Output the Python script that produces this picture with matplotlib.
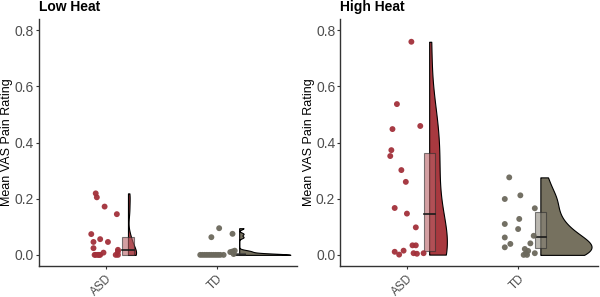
import numpy as np
import matplotlib.pyplot as plt
from matplotlib.patches import Rectangle
from matplotlib.transforms import ScaledTranslation

plt.rcParams["font.family"] = ["Liberation Sans", "DejaVu Sans"]

groups = ["ASD", "TD"]
panels = ["Low Heat", "High Heat"]

# mean VAS ratings per participant
low_asd = [0.219, 0.205, 0.172, 0.145, 0.074, 0.046, 0.056, 0.046, 0.024, 0.0,
           0.0, 0.0, 0.008, 0.018, 0.0, 0.012, 0.0, 0.0, 0.0]
low_asd_jit = [-0.09, -0.08, -0.01, 0.10, -0.13, -0.11, -0.05, 0.02, -0.11, -0.10,
               -0.07, -0.05, -0.02, 0.11, 0.11, 0.11, -0.09, -0.06, 0.09]
low_td = [0.0, 0.0, 0.0, 0.0, 0.0, 0.0, 0.0, 0.0, 0.0, 0.0, 0.0,
          0.063, 0.095, 0.075, 0.003, 0.010, 0.012, 0.015]
low_td_jit = [-0.15, -0.13, -0.11, -0.09, -0.07, -0.05, -0.03, -0.01, 0.01, 0.03, 0.06,
              -0.05, 0.02, 0.14, 0.15, 0.12, 0.14, 0.16]
high_asd = [0.759, 0.537, 0.448, 0.459, 0.373, 0.352, 0.302, 0.260, 0.167, 0.147,
            0.098, 0.011, 0.001, 0.015, 0.034, 0.034, 0.006, 0.004, 0.006]
high_asd_jit = [0.04, -0.09, -0.13, 0.12, -0.14, -0.15, -0.05, -0.01, -0.11, 0.00,
                0.08, -0.11, -0.07, -0.03, 0.05, 0.08, 0.06, 0.09, 0.15]
high_td = [0.276, 0.199, 0.212, 0.166, 0.128, 0.110, 0.092, 0.062, 0.068, 0.039,
           0.027, 0.041, 0.021, 0.014, 0.006, 0.0, 0.0, 0.006]
high_td_jit = [-0.08, -0.12, 0.02, 0.15, 0.01, -0.12, 0.00, -0.12, 0.14, -0.07,
               -0.12, 0.11, 0.06, 0.09, 0.07, 0.05, 0.08, 0.15]

# box statistics (q1, median, q3) as drawn in the reference
low_box = [(0.0, 0.018, 0.065), (0.0, 0.0, 0.008)]
high_box = [(0.015, 0.147, 0.362), (0.024, 0.065, 0.154)]

data = {
    "Low Heat": ([low_asd, low_td], [low_asd_jit, low_td_jit], low_box),
    "High Heat": ([high_asd, high_td], [high_asd_jit, high_td_jit], high_box),
}

PT_C = ["#A2303A", "#6B685C"]
VIO_C = ["#A8393F", "#76715F"]
BOX_C = ["#B85F64", "#8C887C"]


def kde(vals):
    v = np.asarray(vals, float)
    sd = v.std(ddof=1)
    q1, q3 = np.percentile(v, [25, 75])
    lo = min(sd, (q3 - q1) / 1.34)
    if lo <= 0:
        lo = sd
    bw = 0.9 * lo * len(v) ** -0.2
    y = np.linspace(v.min(), v.max(), 512)
    d = np.exp(-0.5 * ((y[:, None] - v[None, :]) / bw) ** 2).sum(1)
    d /= len(v) * bw * np.sqrt(2 * np.pi)
    return y, d


fig = plt.figure(figsize=(6, 2.97), dpi=100)
ax_pos = [[0.065, 0.104, 0.43, 0.832], [0.567, 0.104, 0.43, 0.832]]
shift = ScaledTranslation(5 / 100, 0, fig.dpi_scale_trans)

for p, name in enumerate(panels):
    ax = fig.add_axes(ax_pos[p])
    vals, jits, boxes = data[name]
    dens = [kde(v) for v in vals]
    dmax = max(d.max() for _, d in dens)
    for i in range(2):
        c = i + 1
        y, d = dens[i]
        x0 = c + 0.2
        ax.fill_betweenx(y, x0, x0 + 0.46 * d / dmax, facecolor=VIO_C[i],
                         edgecolor="black", lw=0.8, zorder=2)
        q1, med, q3 = boxes[i]
        ax.add_patch(Rectangle((c + 0.15, q1), 0.1, q3 - q1, facecolor=BOX_C[i],
                               alpha=0.6, edgecolor="#2b2b2b", lw=0.8, zorder=3))
        ax.plot([c + 0.15, c + 0.25], [med, med], color="#1a1a1a", lw=1.2, zorder=4)
        ax.scatter(c + np.array(jits[i]), vals[i], s=18, color=PT_C[i],
                   edgecolors="none", alpha=0.95, zorder=5)

    ax.set_xlim(0.4, 2.72)
    ax.set_ylim(-0.04, 0.84)
    ax.set_yticks([0.0, 0.2, 0.4, 0.6, 0.8])
    ax.set_yticklabels(["0.0", "0.2", "0.4", "0.6", "0.8"])
    ax.set_xticks([1, 2])
    ax.set_xticklabels(groups, rotation=45, ha="right", va="top",
                       rotation_mode="anchor", fontsize=8.5)
    for lab in ax.get_xticklabels():
        lab.set_transform(lab.get_transform() + shift)
    for s in ["top", "right"]:
        ax.spines[s].set_visible(False)
    for s in ["left", "bottom"]:
        ax.spines[s].set_color("#333333")
        ax.spines[s].set_linewidth(1.0)
    ax.tick_params(axis="y", colors="#333333", labelcolor="#4D4D4D", labelsize=10,
                   length=2.5, width=0.8, pad=1)
    ax.tick_params(axis="x", colors="#333333", labelcolor="#4D4D4D",
                   length=2.5, width=0.8, pad=2)
    ax.set_ylabel("Mean VAS Pain Rating", fontsize=9, color="black", labelpad=1)
    ax.set_title(name, loc="left", fontsize=10, fontweight="bold", pad=6, x=0.0)

fig.savefig("out.png", dpi=100)
